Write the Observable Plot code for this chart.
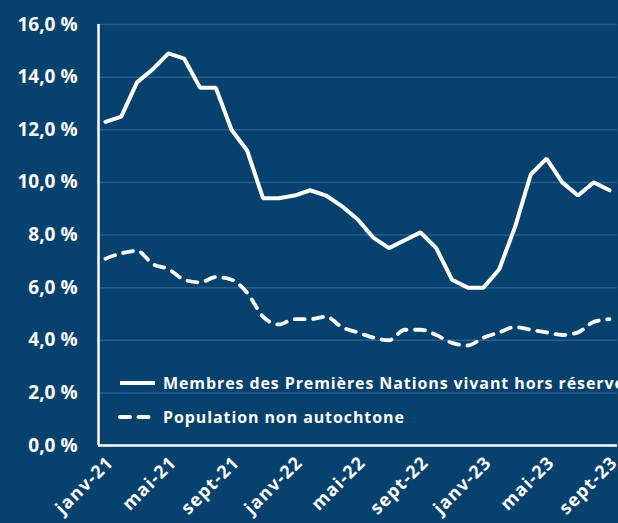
<!DOCTYPE html>
<html>
<head>
<meta charset="utf-8">
<script src="https://cdn.jsdelivr.net/npm/d3@7"></script>
<script src="https://cdn.jsdelivr.net/npm/@observablehq/plot@0.6"></script>
<style>
  html, body { margin: 0; padding: 0; background: #07426e; overflow: hidden; }
  #wrap { position: relative; width: 618px; height: 523px; }
  #legend { position: absolute; left: 0; top: 0; width: 618px; height: 523px; pointer-events: none; }
  #wrap svg g[aria-label="x-axis tick label"] text { letter-spacing: 1.2px; }
</style>
</head>
<body>
<div id="wrap"></div>
<script>
const months = [
  "janv-21","févr-21","mars-21","avr-21","mai-21","juin-21","juil-21","août-21","sept-21","oct-21","nov-21","déc-21",
  "janv-22","févr-22","mars-22","avr-22","mai-22","juin-22","juil-22","août-22","sept-22","oct-22","nov-22","déc-22",
  "janv-23","févr-23","mars-23","avr-23","mai-23","juin-23","juil-23","août-23","sept-23"
];
const premieresNations = [
  12.3, 12.5, 13.8, 14.3, 14.9, 14.7, 13.6, 13.6, 12.0, 11.2, 9.4, 9.4,
  9.5, 9.7, 9.5, 9.1, 8.6, 7.9, 7.5, 7.8, 8.1, 7.5, 6.3, 6.0,
  6.0, 6.7, 8.3, 10.3, 10.9, 10.0, 9.5, 10.0, 9.7
];
const nonAutochtone = [
  7.1, 7.3, 7.4, 6.9, 6.7, 6.3, 6.2, 6.4, 6.3, 5.8, 4.9, 4.6,
  4.8, 4.8, 4.9, 4.5, 4.3, 4.1, 4.0, 4.4, 4.4, 4.2, 3.9, 3.8,
  4.1, 4.3, 4.5, 4.4, 4.3, 4.2, 4.3, 4.7, 4.8
];
const yTicks = [0, 2, 4, 6, 8, 10, 12, 14, 16];
const xTickLabels = ["janv-21","mai-21","sept-21","janv-22","mai-22","sept-22","janv-23","mai-23","sept-23"];
const seriesNames = ["Membres des Premières Nations vivant hors réserve", "Population non autochtone"];

const rows1 = premieresNations.map((v, i) => ({i, v}));
const rows2 = nonAutochtone.map((v, i) => ({i, v}));
const xTicks = xTickLabels.map(l => months.indexOf(l));
const xDomain = [-0.444, months.length - 1 + 0.508];

const fmt = d => d.toFixed(1).replace(".", ",") + "\u00a0%";

const chart = Plot.plot({
  width: 618,
  height: 523,
  marginLeft: 98,
  marginRight: 1,
  marginTop: 24,
  marginBottom: 78,
  style: { background: "transparent", color: "white", overflow: "visible" },
  x: { type: "linear", domain: xDomain },
  y: { domain: [0, 16] },
  marks: [
    Plot.gridY(yTicks.filter(d => d > 0), { stroke: "#2a5c8c", strokeOpacity: 1, strokeWidth: 1.5 }),
    Plot.axisY({
      ticks: yTicks, tickFormat: fmt, tickSize: 0, tickPadding: 21, label: null,
      fontSize: 19, fontWeight: 700, fontFamily: "Open Sans", fill: "white"
    }),
    Plot.axisX({
      ticks: xTicks, tickFormat: i => months[i], tickSize: 0, tickPadding: 14, tickRotate: -45, label: null,
      fontSize: 18, fontWeight: 700, fontFamily: "Open Sans", fill: "white", dx: 5
    }),
    Plot.line(rows2, { x: "i", y: "v", stroke: "white", strokeWidth: 3.8, strokeDasharray: "10,8.5", strokeLinecap: "round", curve: "monotone-x" }),
    Plot.line(rows1, { x: "i", y: "v", stroke: "white", strokeWidth: 4, strokeLinejoin: "miter" }),
    Plot.ruleY([0], { stroke: "white", strokeWidth: 2.5 }),
    Plot.ruleX([xDomain[0]], { stroke: "white", strokeWidth: 2.5 })
  ]
});
document.getElementById("wrap").appendChild(chart);

// Legend overlay (inside plot area)
const svgNS = "http://www.w3.org/2000/svg";
const leg = document.createElementNS(svgNS, "svg");
leg.setAttribute("id", "legend");
leg.setAttribute("width", 618);
leg.setAttribute("height", 523);
const items = [
  { name: seriesNames[0], dash: null, y: 383 },
  { name: seriesNames[1], dash: "10,8.5", y: 417 }
];
items.forEach(it => {
  const ln = document.createElementNS(svgNS, "line");
  ln.setAttribute("x1", 120); ln.setAttribute("x2", 155);
  ln.setAttribute("y1", it.y); ln.setAttribute("y2", it.y);
  ln.setAttribute("stroke", "white"); ln.setAttribute("stroke-width", 4);
  if (it.dash) { ln.setAttribute("stroke-dasharray", it.dash); ln.setAttribute("stroke-linecap", "round"); }
  leg.appendChild(ln);
  const tx = document.createElementNS(svgNS, "text");
  tx.setAttribute("x", 163); tx.setAttribute("y", it.y + 6);
  tx.setAttribute("fill", "white");
  tx.setAttribute("font-family", "Open Sans");
  tx.setAttribute("font-weight", 700);
  tx.setAttribute("font-size", 16);
  tx.setAttribute("letter-spacing", "0.9");
  tx.textContent = it.name;
  leg.appendChild(tx);
});
document.getElementById("wrap").appendChild(leg);
</script>
</body>
</html>
